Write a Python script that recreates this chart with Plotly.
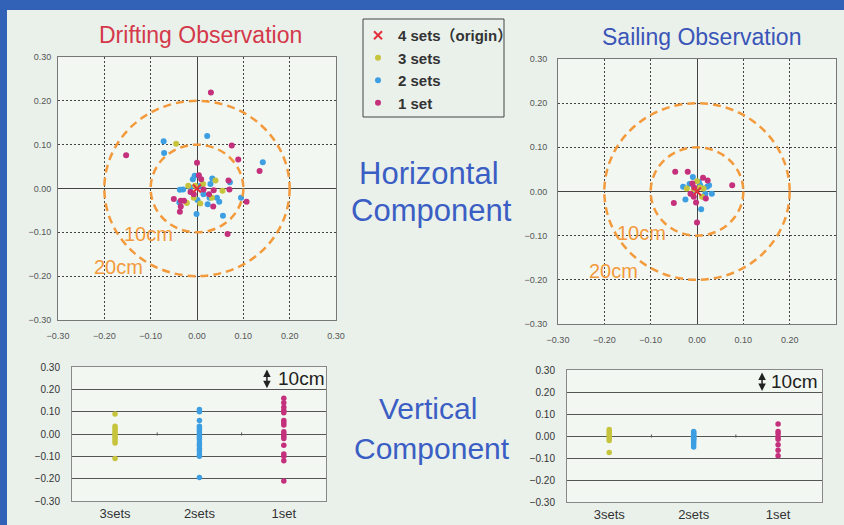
import plotly.graph_objects as go

W, H = 844, 525

# ---------------- data ----------------
# Drifting observation, horizontal component (x, y in m)
drift_1set_x = [0.030, -0.153, 0.075, 0.089, 0.000, 0.135, 0.068, 0.070, 0.107, 0.066, -0.050, -0.035,
                -0.028, -0.037, -0.035, 0.004, 0.009, -0.014, 0.014, 0.036, 0.035, 0.026, -0.007]
drift_1set_y = [0.219, 0.076, 0.098, 0.066, 0.059, 0.040, 0.018, -0.002, -0.030, -0.104, -0.024, -0.028,
                -0.028, -0.053, -0.041, 0.030, 0.021, -0.008, -0.002, -0.004, -0.041, -0.013, -0.013]
drift_2set_x = [0.022, -0.072, -0.071, 0.142, 0.033, -0.005, -0.009, 0.029, 0.071, 0.095, 0.056, -0.001,
                0.048, 0.043, 0.023, -0.037, -0.030, -0.038, 0.001, 0.014, 0.007, -0.014, 0.027]
drift_2set_y = [0.120, 0.108, 0.081, 0.060, 0.023, 0.029, 0.021, 0.010, 0.014, -0.021, -0.062, -0.058,
                -0.030, -0.021, -0.036, -0.003, -0.002, -0.032, -0.026, -0.013, 0.006, 0.002, -0.021]
drift_3set_x = [-0.045, -0.019, 0.013, 0.040, 0.055, 0.007, -0.022, 0.032, -0.004, -0.007]
drift_3set_y = [0.102, 0.006, 0.010, 0.018, -0.005, -0.034, -0.033, -0.021, 0.006, -0.021]

# Sailing observation, horizontal component
sail_1set_x = [-0.047, -0.020, 0.013, 0.023, 0.076, -0.050, 0.000, -0.007, -0.002, 0.019, -0.010, -0.006, -0.014]
sail_1set_y = [0.045, 0.045, 0.031, 0.025, 0.014, -0.026, -0.070, -0.012, -0.025, -0.016, 0.018, 0.009, -0.005]
sail_2set_x = [-0.009, -0.030, -0.016, -0.025, 0.009, 0.032, 0.026, 0.007, 0.018, -0.011, 0.014, 0.004, 0.022]
sail_2set_y = [0.033, 0.011, 0.017, -0.018, -0.040, -0.005, 0.014, 0.014, -0.005, -0.005, -0.012, 0.022, 0.011]
sail_3set_x = [-0.022, 0.000, 0.011, 0.006, -0.007, 0.014]
sail_3set_y = [0.007, 0.023, -0.012, 0.009, 0.005, 0.007]

origin_x = [0.0]
origin_y = [0.0]

# Vertical component
strip_categories = ["3sets", "2sets", "1set"]
drift_v_3sets = [0.09, 0.035, 0.025, 0.015, 0.005, 0.0, -0.01, -0.02, -0.03, -0.04, -0.11]
drift_v_2sets = [0.11, 0.10, 0.06, 0.035, 0.025, 0.015, 0.005, -0.005, -0.015, -0.025, -0.04, -0.05,
                 -0.065, -0.075, -0.09, -0.10, -0.195]
drift_v_1set = [0.16, 0.14, 0.12, 0.105, 0.095, 0.06, 0.05, 0.04, 0.01, 0.0, -0.01, -0.02, -0.05,
                -0.09, -0.10, -0.12, -0.21]
sail_v_3sets = [0.03, 0.02, 0.01, 0.0, -0.01, -0.02, -0.075]
sail_v_2sets = [0.02, 0.015, 0.01, 0.005, 0.0, -0.005, -0.01, -0.015, -0.02, -0.03, -0.04, -0.05]
sail_v_1set = [0.055, 0.02, 0.01, -0.005, -0.015, -0.04, -0.065, -0.09]

ticks = [-0.30, -0.20, -0.10, 0.00, 0.10, 0.20, 0.30]

# ---------------- style ----------------
C1 = "#c4307c"   # 1 set
C2 = "#3d9fe2"   # 2 sets
C3 = "#c6c43c"   # 3 sets
CX = "#e2303c"   # origin
ORANGE = "#f39a3c"
FONT = "Liberation Sans, Arial, Noto Sans CJK JP, sans-serif"


def px(x):
    return x / W


def py(y):
    return 1 - y / H


fig = go.Figure()


def add_scatter(xa, ya, xs, ys, name, color, rank, show):
    fig.add_trace(go.Scatter(x=xs, y=ys, mode="markers", name=name, legendgroup=name,
                             legendrank=rank, showlegend=show, xaxis=xa, yaxis=ya,
                             marker=dict(size=6, color=color)))


for xa, ya, d1x, d1y, d2x, d2y, d3x, d3y, show in [
        ("x", "y", drift_1set_x, drift_1set_y, drift_2set_x, drift_2set_y, drift_3set_x, drift_3set_y, True),
        ("x2", "y2", sail_1set_x, sail_1set_y, sail_2set_x, sail_2set_y, sail_3set_x, sail_3set_y, False)]:
    add_scatter(xa, ya, d2x, d2y, "2 sets", C2, 3, show)
    add_scatter(xa, ya, d3x, d3y, "3 sets", C3, 2, show)
    add_scatter(xa, ya, d1x, d1y, "1 set", C1, 4, show)
    fig.add_trace(go.Scatter(x=origin_x, y=origin_y, mode="markers", name="4 sets（origin）",
                             legendgroup="4", legendrank=1, showlegend=show, xaxis=xa, yaxis=ya,
                             marker=dict(size=8, color=CX, symbol="x-thin",
                                         line=dict(color=CX, width=2))))

for xa, ya, vals in [("x3", "y3", [drift_v_3sets, drift_v_2sets, drift_v_1set]),
                     ("x4", "y4", [sail_v_3sets, sail_v_2sets, sail_v_1set])]:
    for i, (v, c) in enumerate(zip(vals, [C3, C2, C1])):
        fig.add_trace(go.Scatter(x=[i] * len(v), y=v, mode="markers", showlegend=False,
                                 xaxis=xa, yaxis=ya, marker=dict(size=5.5, color=c)))

# ---------------- axes ----------------
tickfont_s = dict(family=FONT, size=9, color="#555")
common_sc = dict(range=[-0.3, 0.3], tickvals=ticks, tickformat=".2f", tickfont=tickfont_s,
                 showgrid=True, gridcolor="#444", griddash="2px,2px", gridwidth=1,
                 zeroline=True, zerolinecolor="#444", zerolinewidth=1.2,
                 showline=True, mirror=True, linecolor="#777", linewidth=1,
                 ticks="outside", tickcolor="rgba(0,0,0,0)", fixedrange=True, automargin=False)

layout = dict(
    width=W, height=H, margin=dict(l=0, r=0, t=0, b=0, autoexpand=False),
    paper_bgcolor="#eaf1eb", plot_bgcolor="#f3f7f2",
    showlegend=True,
    xaxis=dict(domain=[px(58), px(336)], anchor="y", ticklen=7, **common_sc),
    yaxis=dict(domain=[py(320), py(57)], anchor="x", ticklen=4, **common_sc),
    xaxis2=dict(domain=[px(558), px(836)], anchor="y2", ticklen=7, **common_sc),
    yaxis2=dict(domain=[py(324), py(59)], anchor="x2", ticklen=8, **common_sc),
)

common_v = dict(range=[-0.3, 0.3], tickvals=ticks, tickformat=".2f",
                tickfont=dict(family=FONT, size=10, color="#333"),
                showgrid=True, gridcolor="#555", gridwidth=1,
                zeroline=True, zerolinecolor="#555", zerolinewidth=1,
                showline=True, mirror=True, linecolor="#888", linewidth=1,
                ticks="outside", tickcolor="rgba(0,0,0,0)", ticklen=9, fixedrange=True,
                automargin=False)
common_vx = dict(tickvals=[0, 1, 2], ticktext=strip_categories,
                 tickfont=dict(family=FONT, size=13, color="#333"),
                 showgrid=False, zeroline=False, showline=True, mirror=True,
                 linecolor="#888", linewidth=1, ticks="", fixedrange=True, automargin=False)
layout["xaxis3"] = dict(domain=[px(72), px(326)], anchor="y3", range=[-0.51, 2.5], **common_vx)
layout["yaxis3"] = dict(domain=[py(501), py(367)], anchor="x3", **common_v)
layout["xaxis4"] = dict(domain=[px(567), px(822)], anchor="y4", range=[-0.5, 2.52], **common_vx)
layout["yaxis4"] = dict(domain=[py(502), py(370)], anchor="x4", **common_v)

layout["legend"] = dict(x=px(358), y=py(19), xanchor="left", yanchor="top",
                        bgcolor="rgba(0,0,0,0)", borderwidth=0,
                        font=dict(family=FONT, size=15, color="#333", weight="bold"),
                        itemwidth=30, traceorder="normal", tracegroupgap=0)

fig.update_layout(**layout)

# ---------------- shapes ----------------
shapes = []
for xr, yr in [("x", "y"), ("x2", "y2")]:
    for r in [0.1, 0.2]:
        shapes.append(dict(type="circle", xref=xr, yref=yr, x0=-r, x1=r, y0=-r, y1=r,
                           line=dict(color=ORANGE, width=2.5, dash="8px,5px"), layer="above"))
for xr, yr in [("x3", "y3"), ("x4", "y4")]:
    for xm in [0.5, 1.5]:
        shapes.append(dict(type="line", xref=xr, yref=yr, x0=xm, x1=xm, y0=-0.007, y1=0.007,
                           line=dict(color="#555", width=1)))
# legend frame
shapes.append(dict(type="rect", xref="paper", yref="paper", x0=px(363), x1=px(504),
                   y0=py(117), y1=py(19), line=dict(color="#444", width=1)))
# slide frame
shapes.append(dict(type="rect", xref="paper", yref="paper", x0=0, x1=1, y0=py(10), y1=1,
                   fillcolor="#3262b8", line=dict(width=0), layer="above"))
shapes.append(dict(type="rect", xref="paper", yref="paper", x0=0, x1=px(7), y0=0, y1=1,
                   fillcolor="#3262b8", line=dict(width=0), layer="above"))
fig.update_layout(shapes=shapes)

# ---------------- annotations ----------------
ann = []


def text(x, y, s, size, color, xref="paper", yref="paper", **kw):
    ann.append(dict(x=x, y=y, xref=xref, yref=yref, text=s, showarrow=False,
                    font=dict(family=FONT, size=size, color=color), xanchor="center",
                    yanchor="middle", **kw))


text(px(200), py(35), "Drifting Observation", 23, "#d4384a")
text(px(701), py(37), "Sailing Observation", 23, "#3a55b8")
text(px(429), py(173), "Horizontal", 31, "#3a5ec4")
text(px(432), py(210), "Component", 31, "#3a5ec4")
text(px(428), py(408), "Vertical", 30, "#3a5ec4")
text(px(432), py(448), "Component", 30, "#3a5ec4")

text(-0.104, -0.103, "10cm", 20, ORANGE, "x", "y")
text(-0.170, -0.180, "20cm", 20, ORANGE, "x", "y")
text(-0.120, -0.094, "10cm", 20, ORANGE, "x2", "y2")
text(-0.181, -0.179, "20cm", 20, ORANGE, "x2", "y2")

text(2.20, 0.25, "10cm", 19, "#222", "x3", "y3")
text(2.19, 0.25, "10cm", 19, "#222", "x4", "y4")

for xr, yr, xa in [("x3", "y3", 1.80), ("x4", "y4", 1.81)]:
    ann.append(dict(x=xa, y=0.205, ax=xa, ay=0.295, xref=xr, yref=yr, axref=xr, ayref=yr,
                    text="", showarrow=True, arrowhead=2, arrowside="end+start",
                    arrowsize=1, arrowwidth=1.5, arrowcolor="#222"))

fig.update_layout(annotations=ann)

fig.write_html("out.html", config={"displayModeBar": False},
               post_script="document.body.style.margin='0';document.body.style.overflow='hidden';")
